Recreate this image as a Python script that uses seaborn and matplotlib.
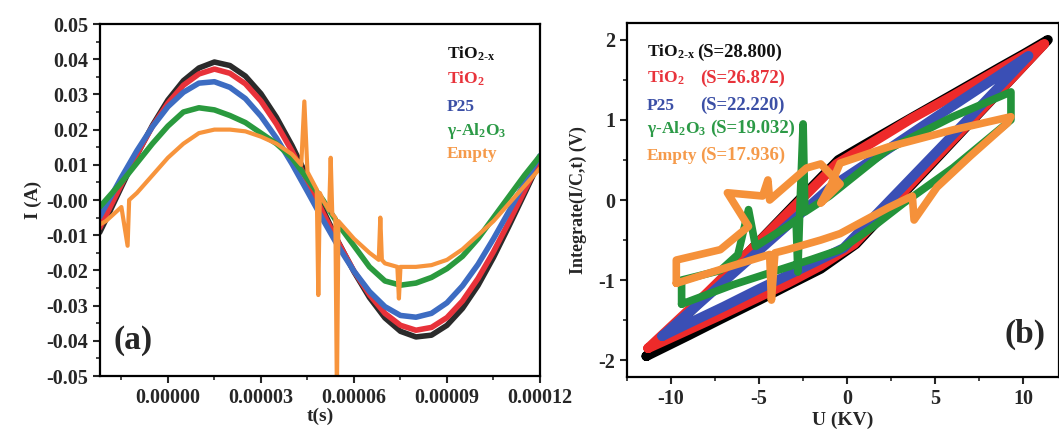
import matplotlib
matplotlib.use('Agg')
import matplotlib.pyplot as plt
import numpy as np
import seaborn as sns
from matplotlib.ticker import MultipleLocator, FormatStrFormatter

# ---- panel (a): current waveforms, time in microseconds ----
t_us = [-22, -20, -15, -10, -5, 0, 5, 10, 15, 20, 25, 30, 35, 40, 45, 50, 55, 60,
        65, 70, 75, 80, 85, 90, 95, 100, 105, 110, 115, 120]
i_tio2x = [-0.0092, -0.0056, 0.0037, 0.0128, 0.0212, 0.0284, 0.0339, 0.0375, 0.0392, 0.0382,
           0.0352, 0.0302, 0.0235, 0.0155, 0.0065, -0.0028, -0.0120, -0.0204, -0.0277, -0.0335,
           -0.0373, -0.0389, -0.0384, -0.0356, -0.0308, -0.0243, -0.0163, -0.0074, 0.0018, 0.0111]
i_tio2 = [-0.0079, -0.0044, 0.0044, 0.0130, 0.0209, 0.0275, 0.0326, 0.0358, 0.0372, 0.0360,
          0.0330, 0.0281, 0.0216, 0.0139, 0.0053, -0.0036, -0.0122, -0.0202, -0.0269, -0.0322,
          -0.0356, -0.0370, -0.0362, -0.0334, -0.0287, -0.0223, -0.0147, -0.0062, 0.0026, 0.0114]
i_p25 = [-0.0048, -0.0016, 0.0064, 0.0140, 0.0208, 0.0265, 0.0306, 0.0332, 0.0336, 0.0320,
         0.0288, 0.0238, 0.0176, 0.0103, 0.0024, -0.0056, -0.0133, -0.0202, -0.0260, -0.0303,
         -0.0328, -0.0333, -0.0322, -0.0292, -0.0244, -0.0183, -0.0110, -0.0032, 0.0048, 0.0126]
i_al2o3 = [-0.0020, 0.0000, 0.0050, 0.0105, 0.0160, 0.0210, 0.0250, 0.0262, 0.0256, 0.0240,
           0.0220, 0.0190, 0.0160, 0.0120, 0.0060, 0.0000, -0.0070, -0.0130, -0.0190, -0.0230,
           -0.0242, -0.0236, -0.0220, -0.0195, -0.0160, -0.0110, -0.0050, 0.0010, 0.0070, 0.0125]
t_empty_us = [-22, -20, -15, -13, -12.5, -10, -5, 0, 5, 10, 15, 20, 25, 30, 35, 40, 43, 44, 45,
              48, 48.5, 49, 50, 52, 52.5, 53, 54, 54.5, 55, 60, 65, 68, 68.5, 69, 70, 74, 74.5,
              75, 80, 85, 90, 95, 100, 105, 110, 115, 120]
i_empty = [-0.007, -0.006, -0.002, -0.013, 0.000, 0.002, 0.007, 0.012, 0.016, 0.019, 0.020,
           0.020, 0.0195, 0.018, 0.016, 0.013, 0.010, 0.028, 0.008, 0.003, -0.027, 0.002, 0.000,
           -0.003, 0.012, -0.004, -0.005, -0.055, -0.006, -0.011, -0.015, -0.017, -0.005, -0.017,
           -0.018, -0.019, -0.028, -0.019, -0.019, -0.0185, -0.017, -0.014, -0.010, -0.006,
           -0.001, 0.004, 0.009]

# ---- panel (b): Q-U Lissajous loops ----
u_tio2x = [-11.4, -9.0, -7.2, -5.0, -3.4, -1.5, 0.5, 2.5, 4.7, 7.0, 9.1, 11.4, 10.0, 8.7, 6.0,
           3.6, 1.3, -0.5, -3.0, -5.5, -8.0, -11.4]
q_tio2x = [-1.95, -1.69, -1.49, -1.25, -1.07, -0.86, -0.55, -0.08, 0.43, 0.97, 1.46, 2.0, 1.82,
           1.66, 1.32, 1.02, 0.73, 0.50, -0.06, -0.63, -1.19, -1.95]
u_tio2 = [-11.3, -9.0, -7.2, -5.0, -3.4, -1.5, 0.4, 2.5, 4.7, 7.0, 9.1, 11.2, 10.0, 8.7, 6.0,
          3.6, 1.3, -0.6, -3.0, -5.5, -8.0, -11.3]
q_tio2 = [-1.85, -1.62, -1.44, -1.21, -1.04, -0.82, -0.55, -0.06, 0.45, 0.98, 1.46, 1.95, 1.80,
          1.64, 1.30, 1.01, 0.70, 0.45, -0.08, -0.63, -1.17, -1.85]
u_p25 = [-10.5, -9.0, -7.0, -5.0, -3.0, -0.2, 2.0, 4.5, 7.0, 9.0, 10.3, 9.0, 7.0, 5.0, 2.5,
         -1.0, -3.0, -5.0, -7.0, -9.0, -10.5]
q_p25 = [-1.70, -1.54, -1.33, -1.11, -0.90, -0.60, -0.10, 0.47, 1.04, 1.50, 1.80, 1.61, 1.32,
         1.03, 0.66, 0.15, -0.24, -0.63, -1.02, -1.41, -1.70]
u_al2o3 = [-9.4, -6.5, -4.4, -2.0, -0.4, 1.5, 3.2, 6.0, 9.3, 9.3, 6.0, 2.3, -1.0, -2.4, -2.5,
           -2.7, -2.8, -2.9, -3.4, -5.2, -5.6, -6.2, -7.2, -9.4, -9.4]
q_al2o3 = [-1.30, -1.06, -0.91, -0.74, -0.62, -0.33, -0.04, 0.40, 1.00, 1.35, 1.04, 0.63, 0.05,
           -0.15, 0.95, -0.20, -0.90, -0.25, -0.33, -0.58, -0.12, -0.68, -0.88, -1.00, -1.30]
u_empty = [-9.7, -6.5, -4.4, -4.3, -4.1, -3.4, -1.5, -0.4, 2.3, 3.7, 3.8, 5.1, 7.0, 9.1, 9.3,
           6.0, 2.3, -0.4, -0.9, -1.5, -0.4, -1.5, -2.3, -4.4, -4.5, -4.8, -6.8, -5.6, -7.2,
           -9.7, -9.7]
q_empty = [-1.04, -0.82, -0.68, -1.25, -0.66, -0.62, -0.50, -0.42, -0.10, 0.05, -0.25, 0.16,
           0.55, 0.96, 1.04, 0.875, 0.66, 0.46, 0.20, -0.04, 0.20, 0.45, 0.40, 0.00, 0.25, 0.05,
           0.09, -0.33, -0.62, -0.75, -1.04]

names = ['TiO$_{\\mathbf{2\\text{-}x}}$', 'TiO$_{\\mathbf{2}}$', 'P25',
         'γ-Al$_{\\mathbf{2}}$O$_{\\mathbf{3}}$', 'Empty']
areas = ['(S=28.800)', '(S=26.872)', '(S=22.220)', '(S=19.032)', '(S=17.936)']
colors_a = ['#2b2b2b', '#e8323a', '#3d6cc2', '#2a9a3e', '#f7943c']
colors_b = ['#000000', '#ee2a2a', '#3a4fb5', '#23933a', '#f5913a']
text_colors = ['#111111', '#e8333b', '#3b4fa6', '#2c9a47', '#f59a4a']

sns.set_style('ticks')
plt.rcParams['font.family'] = ['Liberation Serif', 'DejaVu Serif']
plt.rcParams['font.weight'] = 'bold'
plt.rcParams['axes.labelweight'] = 'bold'
plt.rcParams['axes.unicode_minus'] = False
plt.rcParams['mathtext.fontset'] = 'custom'
plt.rcParams['mathtext.rm'] = 'Liberation Serif:bold'
plt.rcParams['mathtext.it'] = 'Liberation Serif:bold'
plt.rcParams['mathtext.bf'] = 'Liberation Serif:bold'

fig = plt.figure(figsize=(10.59, 4.32), dpi=100)
ax1 = fig.add_axes([100/1059, 1-376/432, 440/1059, 352/432])
ax2 = fig.add_axes([627/1059, 1-377/432, 431.5/1059, 354/432])

wave_t = [t_us, t_us, t_us, t_us, t_empty_us]
wave_i = [i_tio2x, i_tio2, i_p25, i_al2o3, i_empty]
for k in range(5):
    sns.lineplot(x=np.array(wave_t[k]) * 1e-6, y=wave_i[k], ax=ax1, color=colors_a[k],
                 linewidth=4.0 if k < 4 else 3.0, sort=False, estimator=None)

loop_u = [u_tio2x, u_tio2, u_p25, u_al2o3, u_empty]
loop_q = [q_tio2x, q_tio2, q_p25, q_al2o3, q_empty]
for k in range(5):
    sns.lineplot(x=loop_u[k], y=loop_q[k], ax=ax2, color=colors_b[k],
                 linewidth=7.0 if k < 3 else 5.5, sort=False, estimator=None)

# axes (a)
ax1.set_xlim(-0.0000219, 0.00012)
ax1.set_ylim(-0.05, 0.05)
ax1.xaxis.set_major_locator(MultipleLocator(0.00003))
ax1.xaxis.set_minor_locator(MultipleLocator(0.000015))
ax1.xaxis.set_major_formatter(FormatStrFormatter('%.5f'))
ax1.yaxis.set_major_locator(MultipleLocator(0.01))
ax1.yaxis.set_minor_locator(MultipleLocator(0.005))
ax1.yaxis.set_major_formatter(FormatStrFormatter('%.2f'))
ax1.set_xlabel('t(s)', fontsize=14, fontweight='bold', labelpad=0)
ax1.set_ylabel('I (A)', fontsize=13.5, fontweight='bold', labelpad=3)
ax1.text(0.03, 0.10, '(a)', transform=ax1.transAxes, fontsize=24, fontweight='bold',
         va='center', ha='left')
ys_a = [0.903, 0.832, 0.753, 0.685, 0.619]
for k in range(5):
    ax1.text(0.789, ys_a[k], names[k], transform=ax1.transAxes, color=text_colors[k],
             fontsize=12.5, fontweight='bold', va='baseline', ha='left')

# axes (b)
ax2.set_xlim(-12.5, 12.0)
ax2.set_ylim(-2.21, 2.21)
ax2.xaxis.set_major_locator(MultipleLocator(5))
ax2.xaxis.set_minor_locator(MultipleLocator(2.5))
ax2.yaxis.set_major_locator(MultipleLocator(1))
ax2.yaxis.set_minor_locator(MultipleLocator(0.5))
ax2.set_xlabel('U (KV)', fontsize=14, fontweight='bold', labelpad=2)
ax2.set_ylabel('Integrate(I/C,t) (V)', fontsize=13, fontweight='bold', labelpad=8)
ax2.text(0.97, 0.12, '(b)', transform=ax2.transAxes, fontsize=24, fontweight='bold',
         va='center', ha='right')
ys_b = [0.904, 0.831, 0.754, 0.689, 0.613]
xs_s = [0.163, 0.170, 0.170, 0.192, 0.170]
for k in range(5):
    ax2.text(0.046, ys_b[k], names[k], transform=ax2.transAxes, color=text_colors[k],
             fontsize=12.5, fontweight='bold', va='baseline', ha='left')
    ax2.text(xs_s[k], ys_b[k], areas[k], transform=ax2.transAxes, color=text_colors[k],
             fontsize=13.5, fontweight='bold', va='baseline', ha='left')

for ax in (ax1, ax2):
    for s in ax.spines.values():
        s.set_linewidth(1.6)
        s.set_color('black')
    ax.tick_params(which='major', direction='out', length=5, width=1.5, labelsize=14.5,
                   top=False, right=False)
    ax.tick_params(which='minor', direction='out', length=3, width=1.2, top=False, right=False)
    for lab in ax.get_xticklabels() + ax.get_yticklabels():
        lab.set_fontweight('bold')

fig.savefig('out.png', dpi=100)
